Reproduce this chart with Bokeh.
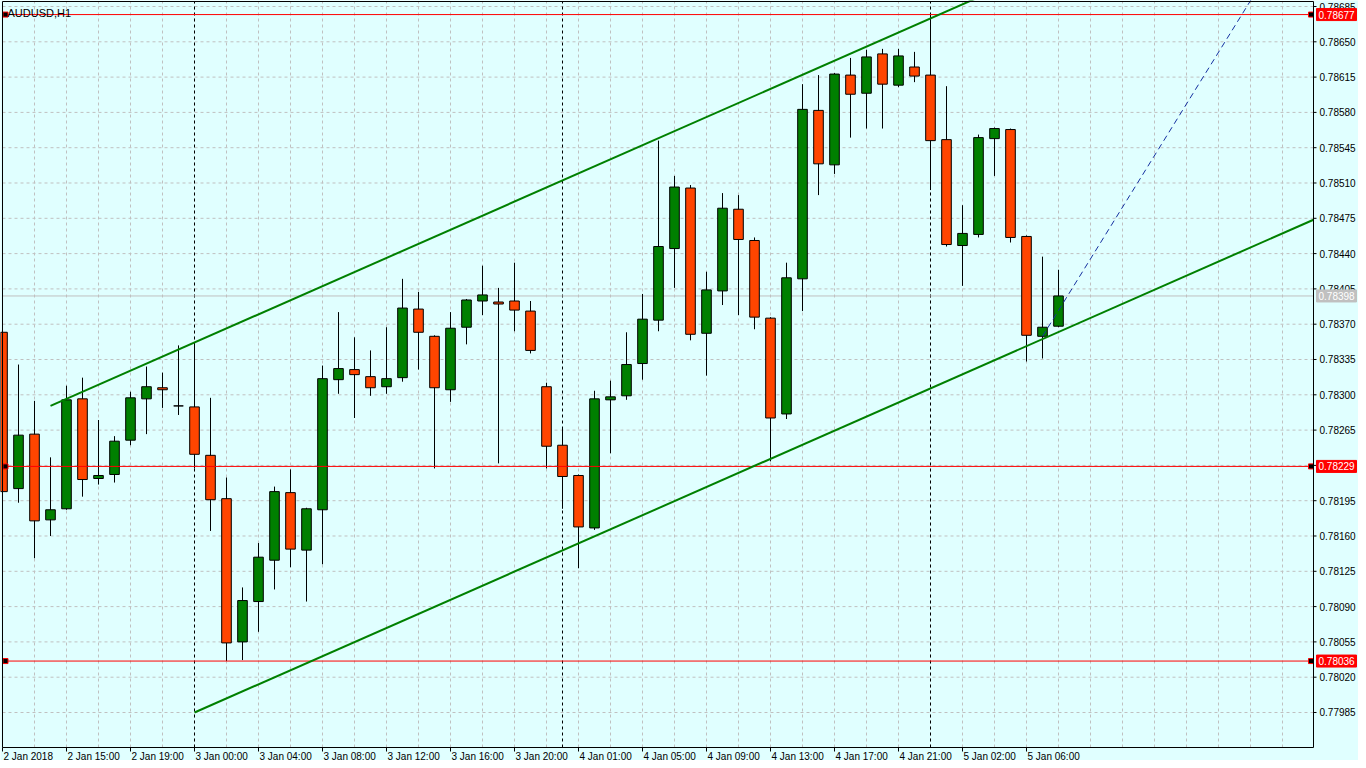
from bokeh.plotting import figure
from bokeh.models import Range1d
from bokeh.core.properties import value
from bokeh.embed import file_html
from bokeh.resources import INLINE

chart_title = "AUDUSD,H1"

opens = [0.78362, 0.78207, 0.78261, 0.78176, 0.78187, 0.78296, 0.78217, 0.78221, 0.78255, 0.78296,
         0.78307, 0.78289, 0.78288, 0.78240, 0.78197, 0.78055, 0.78095, 0.78136, 0.78203, 0.78146,
         0.78186, 0.78315, 0.78325, 0.78318, 0.78308, 0.78317, 0.78385, 0.78358, 0.78305, 0.78367,
         0.78393, 0.78392, 0.78393, 0.78383, 0.78308, 0.78250, 0.78220, 0.78168, 0.78295, 0.78299,
         0.78331, 0.78374, 0.78445, 0.78505, 0.78361, 0.78403, 0.78484, 0.78453, 0.78376, 0.78281,
         0.78415, 0.78582, 0.78528, 0.78617, 0.78599, 0.78638, 0.78607, 0.78625, 0.78617, 0.78553,
         0.78448, 0.78459, 0.78554, 0.78563, 0.78457, 0.78358, 0.78368]
highs = [0.78364, 0.78330, 0.78294, 0.78238, 0.78309, 0.78317, 0.78275, 0.78259, 0.78303, 0.78328,
         0.78322, 0.78349, 0.78351, 0.78297, 0.78218, 0.78109, 0.78153, 0.78209, 0.78226, 0.78188,
         0.78329, 0.78382, 0.78357, 0.78344, 0.78367, 0.78415, 0.78402, 0.78359, 0.78382, 0.78395,
         0.78428, 0.78406, 0.78431, 0.78393, 0.78312, 0.78267, 0.78221, 0.78304, 0.78314, 0.78362,
         0.78400, 0.78552, 0.78517, 0.78508, 0.78422, 0.78500, 0.78498, 0.78456, 0.78377, 0.78431,
         0.78608, 0.78617, 0.78619, 0.78634, 0.78642, 0.78643, 0.78643, 0.78640, 0.78677, 0.78606,
         0.78488, 0.78558, 0.78565, 0.78564, 0.78458, 0.78437, 0.78424]
lows = [0.78202, 0.78193, 0.78138, 0.78160, 0.78186, 0.78199, 0.78211, 0.78213, 0.78250, 0.78261,
        0.78287, 0.78280, 0.78227, 0.78165, 0.78036, 0.78037, 0.78065, 0.78107, 0.78129, 0.78095,
        0.78132, 0.78301, 0.78277, 0.78299, 0.78301, 0.78313, 0.78325, 0.78227, 0.78293, 0.78350,
        0.78379, 0.78232, 0.78363, 0.78341, 0.78227, 0.78187, 0.78128, 0.78166, 0.78242, 0.78295,
        0.78315, 0.78363, 0.78406, 0.78354, 0.78319, 0.78389, 0.78379, 0.78365, 0.78234, 0.78276,
        0.78383, 0.78498, 0.78519, 0.78555, 0.78564, 0.78564, 0.78605, 0.78610, 0.78503, 0.78447,
        0.78408, 0.78456, 0.78517, 0.78451, 0.78333, 0.78336, 0.78367]
closes = [0.78204, 0.78260, 0.78175, 0.78186, 0.78295, 0.78216, 0.78220, 0.78254, 0.78297, 0.78308,
          0.78305, 0.78289, 0.78241, 0.78196, 0.78054, 0.78096, 0.78139, 0.78204, 0.78147, 0.78187,
          0.78316, 0.78326, 0.78320, 0.78307, 0.78316, 0.78386, 0.78362, 0.78307, 0.78366, 0.78394,
          0.78399, 0.78390, 0.78384, 0.78344, 0.78249, 0.78219, 0.78169, 0.78296, 0.78298, 0.78330,
          0.78375, 0.78447, 0.78506, 0.78360, 0.78404, 0.78485, 0.78454, 0.78377, 0.78277, 0.78416,
          0.78583, 0.78529, 0.78618, 0.78598, 0.78635, 0.78608, 0.78636, 0.78616, 0.78552, 0.78449,
          0.78460, 0.78555, 0.78564, 0.78456, 0.78359, 0.78367, 0.78398]

time_tick_bars = [0, 4, 8, 12, 16, 20, 24, 28, 32, 36, 40, 44, 48, 52, 56, 60, 64]
time_tick_labels = ["2 Jan 2018", "2 Jan 15:00", "2 Jan 19:00", "3 Jan 00:00", "3 Jan 04:00",
                    "3 Jan 08:00", "3 Jan 12:00", "3 Jan 16:00", "3 Jan 20:00", "4 Jan 01:00",
                    "4 Jan 05:00", "4 Jan 09:00", "4 Jan 13:00", "4 Jan 17:00", "4 Jan 21:00",
                    "5 Jan 02:00", "5 Jan 06:00"]
price_ticks = [0.77985, 0.78020, 0.78055, 0.78090, 0.78125, 0.78160, 0.78195, 0.78230, 0.78265,
               0.78300, 0.78335, 0.78370, 0.78405, 0.78440, 0.78475, 0.78510, 0.78545, 0.78580,
               0.78615, 0.78650, 0.78685]
grid_bars = list(range(2, 82, 2))
separator_bars = [12, 35, 58]
red_levels = [0.78677, 0.78229, 0.78036]
bid_price = 0.78398

upper_channel_bars = [3, 70]
upper_channel_prices = [0.78289, 0.78757]
lower_channel_bars = [12, 84]
lower_channel_prices = [0.77985, 0.78488]
blue_ray_bars = [65, 80]
blue_ray_prices = [0.78358, 0.78742]

# ---- geometry (pixels -> data) ----
CANVAS_W, CANVAS_H = 1358, 760
BAR_PX = 16.0            # pixels per bar
PRICE_PX = 100857.0      # pixels per price unit
X_START = -2 / BAR_PX
X_END = X_START + CANVAS_W / BAR_PX
Y_END = 0.78685 + 6 / PRICE_PX
Y_START = Y_END - CANVAS_H / PRICE_PX
PXX = 1 / BAR_PX
PXY = 1 / PRICE_PX
CH_LEFT = 0.0
CH_RIGHT = X_START + 1313 * PXX
CH_TOP = Y_END - 1 * PXY
CH_BOTTOM = Y_END - 747 * PXY

FONT = value("Liberation Sans")
FS = value("10px")
BG = "#E0FFFF"
BULL = "#008000"
BEAR = "#FF4500"

p = figure(width=CANVAS_W, height=CANVAS_H, output_backend="svg", toolbar_location=None,
           x_range=Range1d(X_START, X_END), y_range=Range1d(Y_START, Y_END),
           x_axis_location=None, y_axis_location=None, min_border=0)
p.background_fill_color = BG
p.border_fill_color = BG
p.outline_line_color = None
p.xgrid.visible = False
p.ygrid.visible = False

# grid (dashed, limited to the chart area)
p.segment(x0=grid_bars, y0=[CH_BOTTOM] * len(grid_bars), x1=grid_bars, y1=[CH_TOP] * len(grid_bars),
          line_color="#C0C0C0", line_dash="3 3", line_width=1)
p.segment(x0=[CH_LEFT] * len(price_ticks), y0=price_ticks, x1=[CH_RIGHT] * len(price_ticks),
          y1=price_ticks, line_color="#C0C0C0", line_dash="3 3", line_width=1)

# period separators
p.segment(x0=separator_bars, y0=[CH_BOTTOM] * 3, x1=separator_bars, y1=[CH_TOP] * 3,
          line_color="black", line_dash="3 3", line_width=1)
# bid line
p.segment(x0=[CH_LEFT], y0=[bid_price], x1=[CH_RIGHT], y1=[bid_price], line_color="#C0C0C0",
          line_width=1)

# candles
bars = list(range(len(opens)))
tops = [max(o, c) for o, c in zip(opens, closes)]
bottoms = [min(o, c) for o, c in zip(opens, closes)]
colors = [BULL if c >= o else BEAR for o, c in zip(opens, closes)]
p.segment(x0=bars, y0=lows, x1=bars, y1=highs, line_color="black", line_width=1)
p.vbar(x=bars, width=0.6, top=tops, bottom=bottoms, fill_color=colors,
       line_color="black", line_width=1)

# horizontal red levels with end markers
n = len(red_levels)
p.segment(x0=[CH_LEFT] * n, y0=red_levels, x1=[CH_RIGHT] * n, y1=red_levels,
          line_color="#FF0000", line_width=1)
p.scatter(x=[CH_LEFT + 3 * PXX] * n, y=red_levels, marker="square", size=5,
          fill_color="black", line_color="#FF0000", line_width=1)
p.scatter(x=[CH_RIGHT - 2.5 * PXX] * n, y=red_levels, marker="square", size=5,
          fill_color="black", line_color="#FF0000", line_width=1)

# channel lines
p.line(upper_channel_bars, upper_channel_prices, line_color=BULL, line_width=2)
slope = (lower_channel_prices[1] - lower_channel_prices[0]) / (lower_channel_bars[1] - lower_channel_bars[0])
lower_end = lower_channel_prices[0] + slope * (CH_RIGHT - lower_channel_bars[0])
p.line([lower_channel_bars[0], CH_RIGHT], [lower_channel_prices[0], lower_end],
       line_color=BULL, line_width=2)
p.line(blue_ray_bars, blue_ray_prices, line_color="#1530A0", line_width=1, line_dash="6 4")

# chart frame
p.quad(left=[CH_LEFT], right=[CH_RIGHT], bottom=[CH_BOTTOM], top=[CH_TOP],
       fill_alpha=0, line_color="black", line_width=1)

# price axis: ticks and labels
m = len(price_ticks)
p.segment(x0=[CH_RIGHT] * m, y0=price_ticks, x1=[CH_RIGHT + 3 * PXX] * m, y1=price_ticks,
          line_color="black", line_width=1)
p.text(x=[CH_RIGHT + 6 * PXX] * m, y=price_ticks, text=[f"{t:.5f}" for t in price_ticks],
       text_font=FONT, text_font_size=FS, text_color="black", text_align="left",
       text_baseline="middle")

# price tags
tag_prices = red_levels + [bid_price]
tag_colors = ["#FF0000"] * n + ["#C0C0C0"]
k = len(tag_prices)
p.quad(left=[CH_RIGHT + 3 * PXX] * k, right=[CH_RIGHT + 43 * PXX] * k,
       bottom=[t - 6 * PXY for t in tag_prices], top=[t + 6 * PXY for t in tag_prices],
       fill_color=tag_colors, line_color=tag_colors)
p.text(x=[CH_RIGHT + 5 * PXX] * k, y=tag_prices, text=[f"{t:.5f}" for t in tag_prices],
       text_font=FONT, text_font_size=FS, text_color="white", text_align="left",
       text_baseline="middle")

# time axis: ticks and labels
q = len(time_tick_bars)
p.segment(x0=time_tick_bars, y0=[CH_BOTTOM] * q, x1=time_tick_bars, y1=[CH_BOTTOM - 4 * PXY] * q,
          line_color="black", line_width=1)
p.text(x=[b + 1 * PXX for b in time_tick_bars], y=[CH_BOTTOM - 3 * PXY] * q, text=time_tick_labels,
       text_font=FONT, text_font_size=FS, text_color="black", text_align="left",
       text_baseline="top")

# title
p.text(x=[CH_LEFT + 5 * PXX], y=[Y_END - 12 * PXY], text=[chart_title], text_font=FONT,
       text_font_size=value("11px"), text_color="black", text_align="left",
       text_baseline="alphabetic")

open("out.html", "w").write(file_html(p, INLINE))
